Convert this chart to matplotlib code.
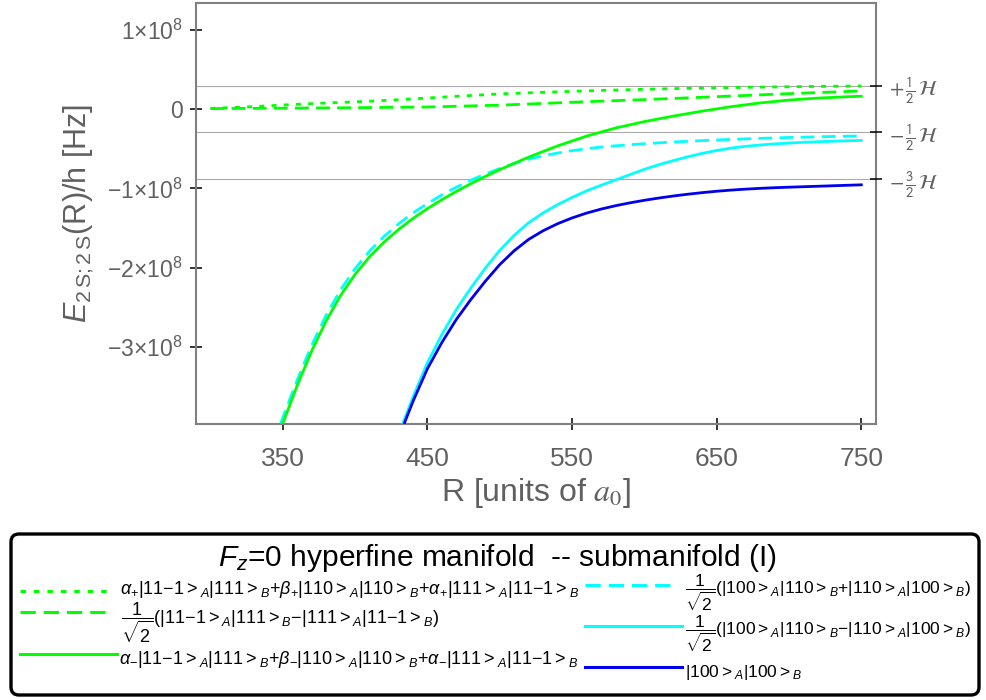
import numpy as np
import matplotlib
matplotlib.use("Agg")
import matplotlib.pyplot as plt
from matplotlib.patches import FancyBboxPatch
from matplotlib.lines import Line2D

plt.rcParams['font.family'] = ['Liberation Sans', 'DejaVu Sans']
plt.rcParams['mathtext.fontset'] = 'custom'
plt.rcParams['mathtext.rm'] = 'Liberation Sans'
plt.rcParams['mathtext.it'] = 'Liberation Sans:italic'
plt.rcParams['mathtext.bf'] = 'Liberation Sans:bold'
plt.rcParams['mathtext.sf'] = 'Liberation Sans'

HZ = 1e8  # energies below are given in units of 10^8 Hz

# hyperfine reference levels (+H/2, -H/2, -3H/2)
level_E = [0.295, -0.295, -0.885]
level_labels = [r"$+\,\frac{1}{2}\,\mathcal{H}$", r"$-\,\frac{1}{2}\,\mathcal{H}$",
                r"$-\,\frac{3}{2}\,\mathcal{H}$"]

# alpha_+ ... (upper state) : green dotted
R_plus = [300, 325, 350, 375, 400, 425, 450, 475, 500, 525, 550, 575, 600, 625,
          650, 675, 700, 725, 750]
E_plus = [0.008, 0.025, 0.050, 0.072, 0.090, 0.111, 0.138, 0.165, 0.190, 0.207,
          0.222, 0.236, 0.248, 0.258, 0.266, 0.274, 0.280, 0.285, 0.290]

# 1/sqrt2 (|11-1>|111> - |111>|11-1>) : green dashed
R_anti = [300, 350, 400, 450, 500, 550, 600, 650, 700, 750]
E_anti = [0.005, 0.010, 0.016, 0.025, 0.048, 0.085, 0.118, 0.155, 0.193, 0.227]

# alpha_- ... : green solid
R_minus = [350, 360, 370, 380, 390, 400, 410, 420, 430, 440, 450, 460, 470, 480,
           490, 500, 520, 540, 560, 580, 600, 620, 640, 660, 680, 700, 720, 740,
           750]
E_minus = [-3.96, -3.48, -3.047, -2.667, -2.347, -2.082, -1.862, -1.677, -1.518,
           -1.379, -1.255, -1.142, -1.038, -0.941, -0.850, -0.764, -0.606, -0.465,
           -0.342, -0.240, -0.159, -0.090, -0.027, 0.029, 0.076, 0.112, 0.137,
           0.154, 0.160]

# 1/sqrt2 (|100>|110> + |110>|100>) : cyan dashed
R_csym = [348.5, 350, 360, 370, 380, 390, 400, 410, 420, 430, 440, 450, 460, 470,
          480, 490, 500, 510, 520, 530, 540, 550, 560, 570, 580, 600, 620, 640,
          660, 680, 700, 720, 740, 750]
E_csym = [-3.96, -3.89, -3.41, -2.975, -2.595, -2.275, -2.01, -1.79, -1.605, -1.447,
          -1.31, -1.19, -1.082, -0.985, -0.897, -0.82, -0.75, -0.686, -0.632,
          -0.590, -0.555, -0.525, -0.500, -0.480, -0.464, -0.437, -0.416, -0.398,
          -0.383, -0.370, -0.359, -0.350, -0.343, -0.340]

# 1/sqrt2 (|100>|110> - |110>|100>) : cyan solid
R_canti = [433, 440, 450, 460, 470, 480, 490, 500, 510, 520, 530, 540, 550, 560,
           570, 580, 590, 600, 610, 620, 630, 640, 650, 660, 670, 680, 690, 700,
           710, 720, 730, 740, 750]
E_canti = [-3.96, -3.6275, -3.195, -2.84, -2.525, -2.255, -2.005, -1.78, -1.59,
           -1.432, -1.3085, -1.205, -1.114, -1.0315, -0.961, -0.8935, -0.827,
           -0.760, -0.7015, -0.650, -0.602, -0.559, -0.522, -0.4925, -0.4705,
           -0.4535, -0.440, -0.429, -0.420, -0.4125, -0.406, -0.4005, -0.396]

# |100>|100> : blue solid
R_blue = [434, 440, 450, 460, 470, 480, 490, 500, 510, 520, 530, 540, 550, 560,
          570, 580, 590, 600, 610, 620, 630, 640, 650, 660, 670, 680, 690, 700,
          710, 720, 730, 740, 750]
E_blue = [-3.96, -3.6825, -3.27, -2.94, -2.65, -2.40, -2.17, -1.96, -1.785,
          -1.642, -1.5335, -1.445, -1.372, -1.3115, -1.261, -1.2185, -1.182, -1.15,
          -1.1215, -1.096, -1.0735, -1.0535, -1.036, -1.0215, -1.0095, -0.9995,
          -0.9915, -0.985, -0.979, -0.973, -0.967, -0.961, -0.955]

x_ticks = [350, 450, 550, 650, 750]
y_ticks = [1, 0, -1, -2, -3]
y_tick_labels = [r"$1{\times}10^{8}$", "0", r"${-}1{\times}10^{8}$",
                 r"${-}2{\times}10^{8}$", r"${-}3{\times}10^{8}$"]

GREEN = "#00ff00"
CYAN = "#00ffff"
BLUE = "#0000ee"
GRAY_TXT = "#606060"
SPINE = "#808080"

fig = plt.figure(figsize=(9.87, 7.0), dpi=100)
ax = fig.add_axes([0.1983, 0.3943, 0.6893, 0.601])

for e in level_E:
    ax.axhline(e * HZ, color="#aaaaaa", lw=0.8, zorder=1)

lw = 2.0
ax.plot(R_plus, np.array(E_plus) * HZ, color=GREEN, lw=lw, dashes=(1.8, 2.6), zorder=3)
ax.plot(R_anti, np.array(E_anti) * HZ, color=GREEN, lw=lw, dashes=(5.0, 2.6), zorder=3)
ax.plot(R_csym, np.array(E_csym) * HZ, color=CYAN, lw=lw, dashes=(5.0, 2.6), zorder=3)
ax.plot(R_minus, np.array(E_minus) * HZ, color=GREEN, lw=lw, zorder=4)
ax.plot(R_canti, np.array(E_canti) * HZ, color=CYAN, lw=lw, zorder=3)
ax.plot(R_blue, np.array(E_blue) * HZ, color=BLUE, lw=lw, zorder=4)

ax.set_xlim(289.8, 760.2)
ax.set_ylim(-3.967 * HZ, 1.331 * HZ)

ax.set_xticks(x_ticks)
ax.set_xticklabels([str(v) for v in x_ticks])
ax.set_yticks([v * HZ for v in y_ticks])
ax.set_yticklabels(y_tick_labels)
ax.tick_params(axis="both", direction="inout", length=9, width=1.1, color="black",
               labelcolor=GRAY_TXT)
ax.tick_params(axis="x", labelsize=19, pad=12)
ax.tick_params(axis="y", labelsize=16.5, pad=5)
for sp in ax.spines.values():
    sp.set_color(SPINE)
    sp.set_linewidth(1.5)

ax.set_xlabel(r"R [units of $a_0$]", fontsize=23, color=GRAY_TXT, labelpad=4,
              math_fontfamily="stix")
ax.set_ylabel(r"$E_{2\,\mathrm{S};2\,\mathrm{S}}$(R)/h [Hz]", fontsize=22,
              color=GRAY_TXT, labelpad=8)

ax2 = ax.twinx()
ax2.set_ylim(ax.get_ylim())
ax2.set_yticks([v * HZ for v in level_E])
ax2.set_yticklabels(level_labels, math_fontfamily="stixsans")
ax2.tick_params(axis="y", direction="inout", length=9, width=1.1, color="black",
                labelcolor=GRAY_TXT, labelsize=15, pad=5)
for sp in ax2.spines.values():
    sp.set_visible(False)

# ---- legend panel (pixel coordinates) ----
lax = fig.add_axes([0, 0, 1, 1], facecolor="none")
lax.set_xlim(0, 987)
lax.set_ylim(700, 0)
lax.axis("off")

box = FancyBboxPatch((11, 534), 968, 161, boxstyle="round,pad=0,rounding_size=8",
                     fc="white", ec="black", lw=2.4)
lax.add_patch(box)

lax.text(497, 558, r"$F_z$=0 hyperfine manifold  -- submanifold (I)",
         fontsize=21.5, ha="center", va="center", color="black")


def ket(s, sub):
    return r"|" + s + r"{>}_{" + sub + r"}"


m1 = "11{-}1"
FRAC = r"\dfrac{1}{\sqrt{2}}"
row_texts = {
    "plus": r"$\alpha_{+}" + ket(m1, "A") + ket("111", "B") + r"{+}\beta_{+}"
            + ket("110", "A") + ket("110", "B") + r"{+}\alpha_{+}" + ket("111", "A")
            + ket(m1, "B") + r"$",
    "anti": r"$" + FRAC + "(" + ket(m1, "A") + ket("111", "B") + r"{-}"
            + ket("111", "A") + ket(m1, "B") + r")$",
    "minus": r"$\alpha_{-}" + ket(m1, "A") + ket("111", "B") + r"{+}\beta_{-}"
             + ket("110", "A") + ket("110", "B") + r"{+}\alpha_{-}" + ket("111", "A")
             + ket(m1, "B") + r"$",
    "csym": r"$" + FRAC + "(" + ket("100", "A") + ket("110", "B") + r"{+}"
            + ket("110", "A") + ket("100", "B") + r")$",
    "canti": r"$" + FRAC + "(" + ket("100", "A") + ket("110", "B") + r"{-}"
             + ket("110", "A") + ket("100", "B") + r")$",
    "blue": r"$" + ket("100", "A") + ket("100", "B") + r"$",
}

legend_rows = [
    # key, x0, x1, y_line, dashes, color, text_x, text_y, fontsize
    ("plus", 20, 113, 591, (1.8, 2.6), GREEN, 120, 590, 13),
    ("anti", 20, 113, 612, (5.0, 2.6), GREEN, 121, 623, 13),
    ("minus", 20, 117, 654, None, GREEN, 119, 659, 13),
    ("csym", 585, 678, 585, (5.0, 2.6), CYAN, 685, 593, 12.5),
    ("canti", 585, 682, 626, None, CYAN, 685, 634, 12.5),
    ("blue", 585, 682, 667, None, BLUE, 685, 672, 12.5),
]
for key, x0, x1, yl, dsh, col, tx, ty, fs in legend_rows:
    ln = Line2D([x0, x1], [yl, yl], color=col, lw=2.2)
    if dsh is not None:
        ln.set_dashes(dsh)
    lax.add_line(ln)
    lax.text(tx, ty, row_texts[key], fontsize=fs, ha="left", va="center",
             color="black")

fig.savefig("out.png", dpi=100)
